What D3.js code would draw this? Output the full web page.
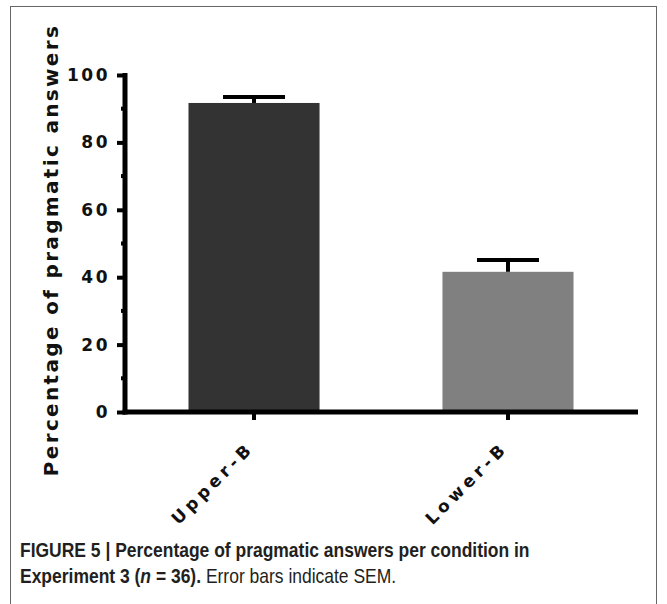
<!DOCTYPE html>
<html>
<head>
<meta charset="utf-8">
<script src="https://cdn.jsdelivr.net/npm/d3@7"></script>
<style>
  body { margin: 0; background: #fff; }
  svg { display: block; }
</style>
</head>
<body>
<script>
// data
var conditions = ["Upper-B", "Lower-B"];
var means = [91.7, 41.6];
var sems = [1.8, 3.5];
var barColors = ["#333333", "#808080"];
var yTicks = [0, 20, 40, 60, 80, 100];
var yMinorTicks = [10, 30, 50, 70, 90];

var width = 667;
var height = 604;
var svg = d3
  .select("body")
  .append("svg")
  .attr("width", width)
  .attr("height", height);

// stretch a text node's letter spacing so it spans len pixels
function fitSpacing(node, len) {
  var t = d3.select(node);
  var n = t.text().length;
  var w = node.getComputedTextLength();
  t.attr("letter-spacing", (len - w) / (n - 1));
}

// frame round the figure
svg
  .append("rect")
  .attr("x", 10.5)
  .attr("y", 6.5)
  .attr("width", 646)
  .attr("height", 620)
  .attr("fill", "none")
  .attr("stroke", "#666")
  .attr("stroke-width", 1);

var x0 = 125;
var xEnd = 637;
var yScale = d3.scaleLinear().domain([0, 100]).range([412, 75]);
var xScale = d3
  .scaleBand()
  .domain(conditions)
  .range([x0, xEnd])
  .paddingInner(0.484)
  .paddingOuter(0.25);

// bars
svg
  .selectAll("rect.bar")
  .data(conditions)
  .enter()
  .append("rect")
  .attr("class", "bar")
  .attr("x", function(d) { return xScale(d); })
  .attr("y", function(d, i) { return yScale(means[i]); })
  .attr("width", xScale.bandwidth())
  .attr("height", function(d, i) { return yScale(0) - yScale(means[i]); })
  .attr("fill", function(d, i) { return barColors[i]; });

// error bars (upper half only)
var capW = 62;
conditions.forEach(function(d, i) {
  var cx = xScale(d) + xScale.bandwidth() / 2;
  svg
    .append("line")
    .attr("x1", cx)
    .attr("x2", cx)
    .attr("y1", yScale(means[i]))
    .attr("y2", yScale(means[i] + sems[i]))
    .attr("stroke", "#000")
    .attr("stroke-width", 4);
  svg
    .append("line")
    .attr("x1", cx - capW / 2)
    .attr("x2", cx + capW / 2)
    .attr("y1", yScale(means[i] + sems[i]))
    .attr("y2", yScale(means[i] + sems[i]))
    .attr("stroke", "#000")
    .attr("stroke-width", 4);
});

// y axis
var yAxis = svg
  .append("g")
  .attr("transform", "translate(" + x0 + ",0)")
  .call(
    d3.axisLeft(yScale)
      .tickValues(yTicks)
      .tickSize(8)
      .tickPadding(7)
  );
yAxis.select(".domain").remove();
yAxis.selectAll(".tick line").attr("stroke-width", 4);
yAxis
  .selectAll(".tick text")
  .attr("font-family", "DejaVu Sans, sans-serif")
  .attr("font-weight", "bold")
  .attr("font-size", 17)
  .attr("letter-spacing", 2.5)
  .attr("fill", "#111");
yAxis
  .selectAll("line.minor")
  .data(yMinorTicks)
  .enter()
  .append("line")
  .attr("class", "minor")
  .attr("x1", -4)
  .attr("x2", 0)
  .attr("y1", function(d) { return yScale(d); })
  .attr("y2", function(d) { return yScale(d); })
  .attr("stroke", "#000")
  .attr("stroke-width", 4);
svg
  .append("line")
  .attr("x1", x0)
  .attr("x2", x0)
  .attr("y1", yScale(100) - 2)
  .attr("y2", yScale(0) + 2.5)
  .attr("stroke", "#000")
  .attr("stroke-width", 5);

// x axis
var xAxis = svg
  .append("g")
  .attr("transform", "translate(0," + yScale(0) + ")")
  .call(d3.axisBottom(xScale).tickSize(8).tickPadding(0));
xAxis.select(".domain").remove();
xAxis.selectAll(".tick line").attr("stroke-width", 4);
xAxis
  .selectAll(".tick text")
  .attr("font-family", "DejaVu Sans, sans-serif")
  .attr("font-weight", "bold")
  .attr("font-size", 17)
  .attr("fill", "#111")
  .attr("text-anchor", "end")
  .attr("x", 0)
  .attr("y", 0)
  .attr("dy", 0)
  .attr("transform", "translate(1,37) rotate(-45)")
  .each(function() { fitSpacing(this, 104); });
svg
  .append("line")
  .attr("x1", x0 - 2.5)
  .attr("x2", xEnd + 1)
  .attr("y1", yScale(0))
  .attr("y2", yScale(0))
  .attr("stroke", "#000")
  .attr("stroke-width", 5);

// y axis title
svg
  .append("text")
  .attr("transform", "translate(58,250) rotate(-90)")
  .attr("text-anchor", "middle")
  .attr("font-family", "DejaVu Sans, sans-serif")
  .attr("font-weight", "bold")
  .attr("font-size", 20)
  .attr("fill", "#111")
  .text("Percentage of pragmatic answers")
  .each(function() { fitSpacing(this, 450); });

// caption, squeezed to a condensed width
var capG = svg.append("g");
var cap = capG
  .append("text")
  .attr("font-family", "Liberation Sans, Arial, sans-serif")
  .attr("font-size", 20)
  .attr("fill", "#231f20");
var line1 = cap
  .append("tspan")
  .attr("x", 0)
  .attr("y", 557)
  .attr("font-weight", "bold")
  .text("FIGURE 5 | Percentage of pragmatic answers per condition in");
var line2 = cap.append("tspan").attr("x", 0).attr("y", 583);
line2.append("tspan").attr("font-weight", "bold").text("Experiment 3 (");
line2
  .append("tspan")
  .attr("font-weight", "bold")
  .attr("font-style", "italic")
  .text("n");
line2.append("tspan").attr("font-weight", "bold").text(" = 36).");
line2.append("tspan").text(" Error bars indicate SEM.");
var w1 = line1.node().getComputedTextLength();
capG.attr("transform", "translate(20,0) scale(" + 510 / w1 + ",1)");
</script>
</body>
</html>
